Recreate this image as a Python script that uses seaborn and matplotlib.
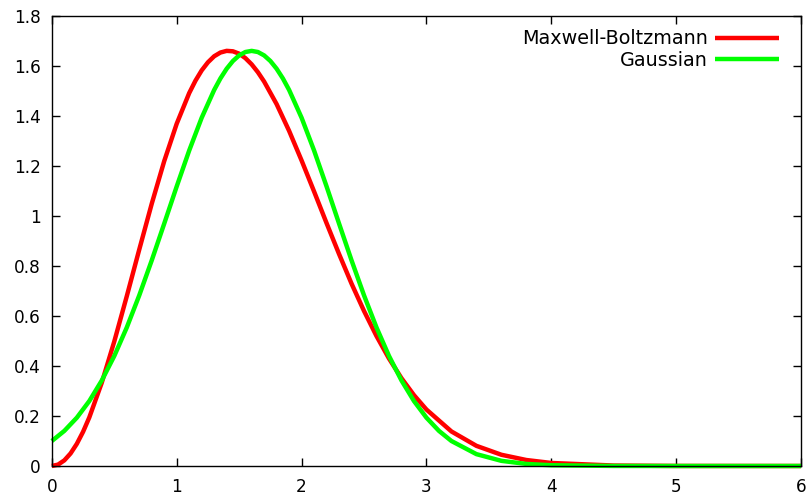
import matplotlib
matplotlib.use("Agg")
import matplotlib.pyplot as plt
import seaborn as sns
import pandas as pd

# values
x_mb = [0, 0.05, 0.1, 0.15, 0.2, 0.25, 0.3, 0.4, 0.5, 0.6, 0.7, 0.8, 0.9, 1.0, 1.1,
        1.15, 1.2, 1.25, 1.3, 1.35, 1.4, 1.45, 1.5, 1.55, 1.6, 1.65, 1.7, 1.8, 1.9,
        2.0, 2.1, 2.2, 2.3, 2.4, 2.5, 2.6, 2.7, 2.8, 2.9, 3.0, 3.2, 3.4, 3.6, 3.8,
        4.0, 4.5, 5.0, 6.0]
y_mb = [0.0, 0.0056, 0.0225, 0.0502, 0.0885, 0.1367, 0.1942, 0.3333, 0.4979, 0.6787,
        0.8655, 1.0488, 1.2193, 1.3688, 1.4913, 1.5407, 1.5820, 1.6143, 1.6385, 1.6534,
        1.6601, 1.6583, 1.6488, 1.6310, 1.6062, 1.5748, 1.5373, 1.4471, 1.3402,
        1.2217, 1.0977, 0.9711, 0.8477, 0.7292, 0.6198, 0.5195, 0.4297, 0.3510, 0.2832,
        0.2257, 0.1381, 0.0806, 0.0449, 0.0239, 0.0121, 0.0018, 0.0002, 0.0]

x_gauss = [0, 0.1, 0.2, 0.3, 0.4, 0.5, 0.6, 0.7, 0.8, 0.9, 1.0, 1.1, 1.2, 1.3, 1.35,
           1.4, 1.45, 1.5, 1.55, 1.6, 1.65, 1.7, 1.75, 1.8, 1.85, 1.9, 2.0, 2.1, 2.2,
           2.3, 2.4, 2.5, 2.6, 2.7, 2.8, 2.9, 3.0, 3.1, 3.2, 3.4, 3.6, 3.8, 4.0, 4.5,
           5.0, 6.0]
y_gauss = [0.0999, 0.1404, 0.1931, 0.2597, 0.3420, 0.4399, 0.5538, 0.6823, 0.8223, 0.9694,
           1.1180, 1.2616, 1.3926, 1.5038, 1.5499, 1.5886, 1.6195, 1.6419, 1.6555, 1.6600,
           1.6555, 1.6419, 1.6195, 1.5886, 1.5499, 1.5038, 1.3926, 1.2616, 1.1180,
           0.9694, 0.8223, 0.6823, 0.5538, 0.4399, 0.3420, 0.2597, 0.1931, 0.1404, 0.0999,
           0.0474, 0.0206, 0.0082, 0.0030, 0.0002, 0.0, 0.0]

x_ticks = [0, 1, 2, 3, 4, 5, 6]
y_ticks = [0, 0.2, 0.4, 0.6, 0.8, 1.0, 1.2, 1.4, 1.6, 1.8]
y_labels = ["0", "0.2", "0.4", "0.6", "0.8", "1", "1.2", "1.4", "1.6", "1.8"]

df = pd.concat([
    pd.DataFrame({"x": x_mb, "y": y_mb, "curve": "Maxwell-Boltzmann"}),
    pd.DataFrame({"x": x_gauss, "y": y_gauss, "curve": "Gaussian"}),
])

sns.set_style("ticks")
plt.rcParams['font.family'] = ['DejaVu Sans']

fig = plt.figure(figsize=(8.1, 4.96), dpi=100)
ax = fig.add_axes([0.064, 0.0605, 0.925, 0.9075])

sns.lineplot(data=df, x="x", y="y", hue="curve", sort=False,
             palette={"Maxwell-Boltzmann": "#ff0000", "Gaussian": "#00ff00"},
             linewidth=3.2, ax=ax, legend=True)
for line in ax.lines:
    line.set_clip_on(False)
    line.set_solid_capstyle("butt")
    line.set_solid_joinstyle("round")

ax.set_xlim(0, 6)
ax.set_ylim(0, 1.8)
ax.set_xticks(x_ticks)
ax.set_xticklabels([str(t) for t in x_ticks])
ax.set_yticks(y_ticks)
ax.set_yticklabels(y_labels)
ax.set_xlabel("")
ax.set_ylabel("")
ax.tick_params(direction="in", length=6, width=1, labelsize=12.2, colors="black",
               top=True, right=True)
ax.tick_params(axis="x", pad=9)
ax.tick_params(axis="y", pad=8)
for s in ax.spines.values():
    s.set_visible(True)
    s.set_color("black")
    s.set_linewidth(1)

leg = ax.legend(loc="upper right", frameon=False, markerfirst=False, fontsize=13.8,
                handlelength=3.35, handletextpad=0.4, labelspacing=0.12,
                borderaxespad=0.3, bbox_to_anchor=(0.989, 1.0))
for h in leg.legend_handles:
    h.set_linewidth(3.2)
for t in leg.get_texts():
    t.set_ha("right")
    t.set_color("black")

fig.savefig("out.png", dpi=100, facecolor="white")
